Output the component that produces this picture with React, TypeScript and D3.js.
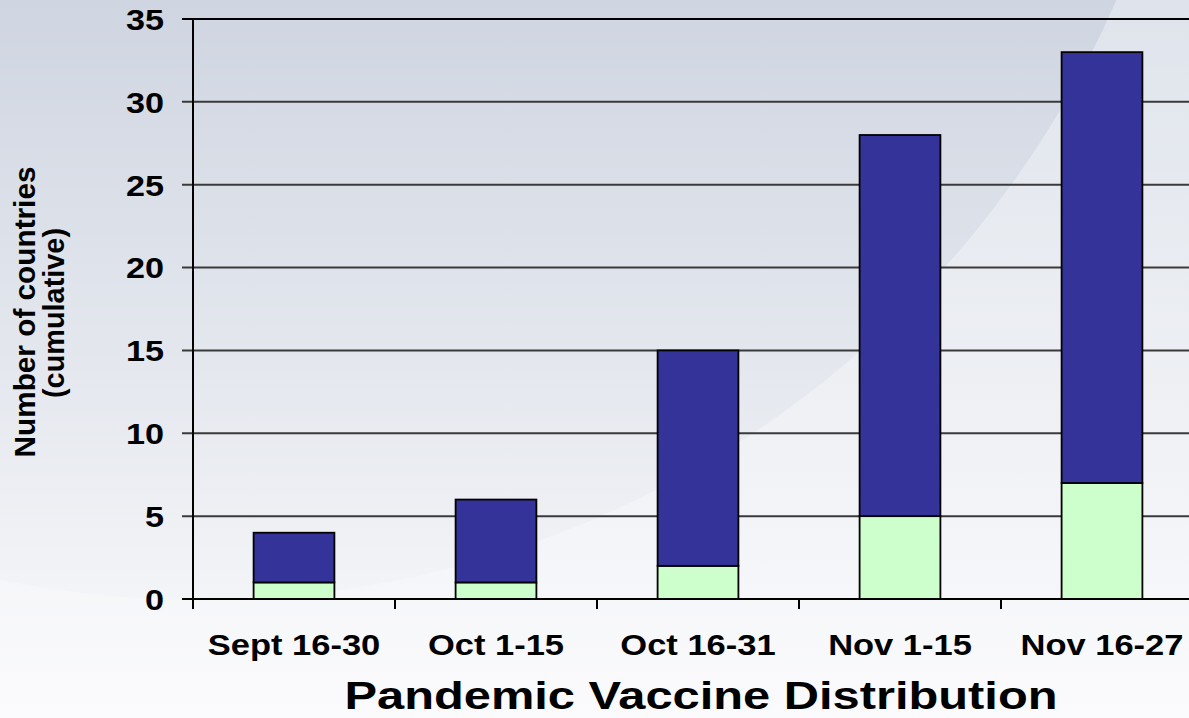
import * as d3 from 'd3';
import React from "react";

const WIDTH = 1189;
const HEIGHT = 718;

const categories = ["Sept 16-30", "Oct 1-15", "Oct 16-31", "Nov 1-15", "Nov 16-27"];
const lowerValues = [1, 1, 2, 5, 7];
const upperValues = [3, 5, 13, 23, 26];
const yTicks = [0, 5, 10, 15, 20, 25, 30, 35];

const LEFT = 193;
const STEP = 202;
const TOP = 19;
const BOTTOM = 599;
const FONT = "'Liberation Sans', Arial, sans-serif";

const x = d3.scaleBand<string>()
    .domain(categories)
    .range([LEFT, LEFT + STEP * categories.length])
    .paddingInner(0.6)
    .paddingOuter(0.3);
const y = d3.scaleLinear().domain([0, 35]).range([BOTTOM, TOP]);

const rows = categories.map((c, i) => ({cat: c, lower: lowerValues[i], upper: upperValues[i]}));
const stacked = d3.stack<any>().keys(["lower", "upper"])(rows);
const fills = ["#CCFFCC", "#333399"];

export default function App() {
    const bgCircle = d3.arc()({innerRadius: 0, outerRadius: 1000, startAngle: 0, endAngle: 2 * Math.PI});
    return (
        <div style={{position: "fixed", left: 0, top: 0}}>
            <svg width={WIDTH} height={HEIGHT} style={{display: "block"}}>
                <defs>
                    <linearGradient id="bgLight" x1="0" y1="0" x2="0" y2={HEIGHT} gradientUnits="userSpaceOnUse">
                        <stop offset="0" stopColor="#dfe4ec"/>
                        <stop offset="0.55" stopColor="#eef0f4"/>
                        <stop offset="1" stopColor="#fbfbfd"/>
                    </linearGradient>
                    <linearGradient id="bgDark" x1="0" y1="400" x2="0" y2={HEIGHT + 400} gradientUnits="userSpaceOnUse">
                        <stop offset="0" stopColor="#cfd5e1"/>
                        <stop offset="0.55" stopColor="#e6e9ef"/>
                        <stop offset="0.85" stopColor="#f4f5f8"/>
                        <stop offset="1" stopColor="#f9fafc"/>
                    </linearGradient>
                </defs>
                <rect width={WIDTH} height={HEIGHT} fill="url(#bgLight)"/>
                <path d={bgCircle || ""} transform="translate(200,-400)" fill="url(#bgDark)"/>

                {/* gridlines */}
                {yTicks.filter(t => t > 0).map(t => (
                    <line key={t} x1={182} x2={WIDTH} y1={y(t)} y2={y(t)}
                          stroke={t === 35 ? "#000" : "#3a3a3a"} strokeWidth={2}/>
                ))}

                {/* bars */}
                {stacked.map((s, si) => s.map((d, i) => (
                    <rect key={si + "-" + i}
                          x={x(categories[i])}
                          width={x.bandwidth()}
                          y={y(d[1])}
                          height={y(d[0]) - y(d[1])}
                          fill={fills[si]} stroke="#000" strokeWidth={1.8}/>
                )))}

                {/* axes */}
                <line x1={LEFT} x2={LEFT} y1={TOP} y2={BOTTOM + 1} stroke="#000" strokeWidth={2}/>
                <line x1={182} x2={WIDTH} y1={BOTTOM} y2={BOTTOM} stroke="#000" strokeWidth={2}/>
                {d3.range(categories.length + 1).map(i => (
                    <line key={i} x1={LEFT + i * STEP} x2={LEFT + i * STEP} y1={BOTTOM} y2={BOTTOM + 10}
                          stroke="#000" strokeWidth={2}/>
                ))}

                {/* y tick labels */}
                {yTicks.map(t => (
                    <g key={t} transform={`translate(164,${y(t)}) scale(1.14,1)`}>
                        <text textAnchor="end" dy="0.36em" fontFamily={FONT} fontWeight="bold" fontSize={30}>{t}</text>
                    </g>
                ))}

                {/* x tick labels */}
                {categories.map(c => (
                    <g key={c} transform={`translate(${x(c)! + x.bandwidth() / 2},655) scale(1.15,1)`}>
                        <text textAnchor="middle" fontFamily={FONT} fontWeight="bold" fontSize={30}>{c}</text>
                    </g>
                ))}

                {/* axis titles */}
                <text x={701} y={709} textAnchor="middle" fontFamily={FONT} fontWeight="bold" fontSize={38}
                      textLength={713} lengthAdjust="spacingAndGlyphs">Pandemic Vaccine Distribution</text>
                <g transform="translate(35,312) rotate(-90)">
                    <text textAnchor="middle" fontFamily={FONT} fontWeight="bold" fontSize={30}
                          textLength={291} lengthAdjust="spacingAndGlyphs">Number of countries</text>
                </g>
                <g transform="translate(64,313) rotate(-90)">
                    <text textAnchor="middle" fontFamily={FONT} fontWeight="bold" fontSize={30}
                          textLength={170} lengthAdjust="spacingAndGlyphs">(cumulative)</text>
                </g>
            </svg>
        </div>
    );
}
